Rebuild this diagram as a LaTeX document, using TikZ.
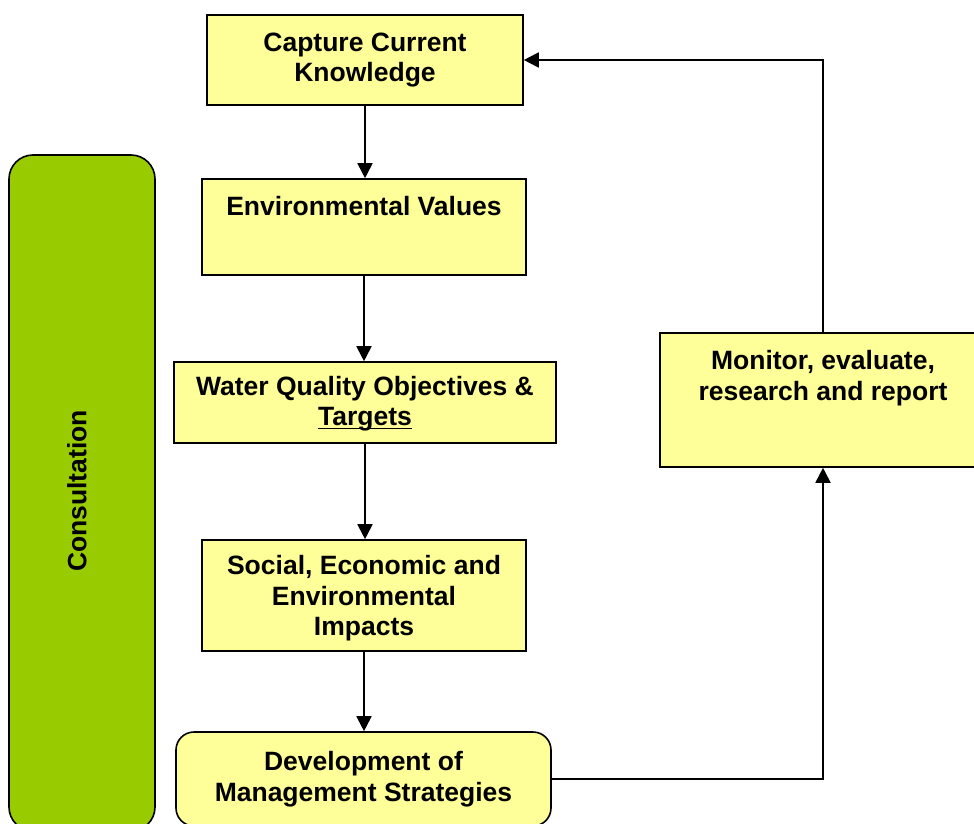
\documentclass[tikz,border=0pt]{standalone}
\usepackage{fontspec}
\setmainfont{Liberation Sans}
\usetikzlibrary{arrows.meta,positioning}

\definecolor{paleyellow}{RGB}{255,255,153}
\definecolor{leafgreen}{RGB}{153,204,0}

% underline with a heavier rule
\newcommand{\ulthick}[1]{\setbox0\hbox{#1}\rlap{\rule[-3.5pt]{\wd0}{1.5pt}}\box0}

\tikzset{
  stage/.style={draw=black, line width=1.6pt, fill=paleyellow, inner sep=0pt, align=center},
  flow/.style={line width=1.8pt, -{Triangle[length=15pt,width=15pt]}},
}

\begin{document}
\begin{tikzpicture}[x=1pt,y=-1pt,font=\fontsize{26.5}{30.5}\selectfont\bfseries]
  \useasboundingbox (0,0) rectangle (974,824);
  % consultation bar on the left
  \node[stage, fill=leafgreen, rounded corners=24pt, minimum width=146pt, minimum height=676pt] (consult) at (82,493) {};
  \node[rotate=90, inner sep=0pt] (consulttext) at (77,491) {Consultation};
  % main chain of stages
  \node[stage, minimum width=316pt, minimum height=90pt] (capture) at (365,60) {Capture Current\\Knowledge};
  \node[stage, minimum width=324pt, minimum height=96pt] (values) at (364,227) {};
  \node[below=18pt of values.north, inner sep=0pt] (valuestext) {Environmental Values};
  \node[stage, minimum width=382pt, minimum height=81pt] (wqo) at (365,402.5) {\strut Water Quality Objectives \&\\\ulthick{Targets}};
  \node[stage, minimum width=324pt, minimum height=111pt] (impacts) at (364,595.5) {\rule{0pt}{25pt}Social, Economic and\\Environmental\\Impacts};
  \node[stage, rounded corners=18pt, minimum width=375pt, minimum height=94pt] (strategies) at (363.5,779) {Development of\\Management Strategies};
  % monitoring box on the right
  \node[stage, minimum width=326pt, minimum height=134pt] (monitor) at (823,400) {};
  \node[below=18pt of monitor.north, inner sep=0pt, align=center] (monitortext) {Monitor, evaluate,\\research and report};
  % arrows down the chain
  \foreach \a/\b in {capture/values,values/wqo,wqo/impacts,impacts/strategies}
    \draw[flow] (\a.south) -- (\a.south |- \b.north);
  % feedback loop
  \draw[flow] (strategies.east) -| (monitor.south);
  \draw[flow] (monitor.north) |- (capture.east);
\end{tikzpicture}
\end{document}
